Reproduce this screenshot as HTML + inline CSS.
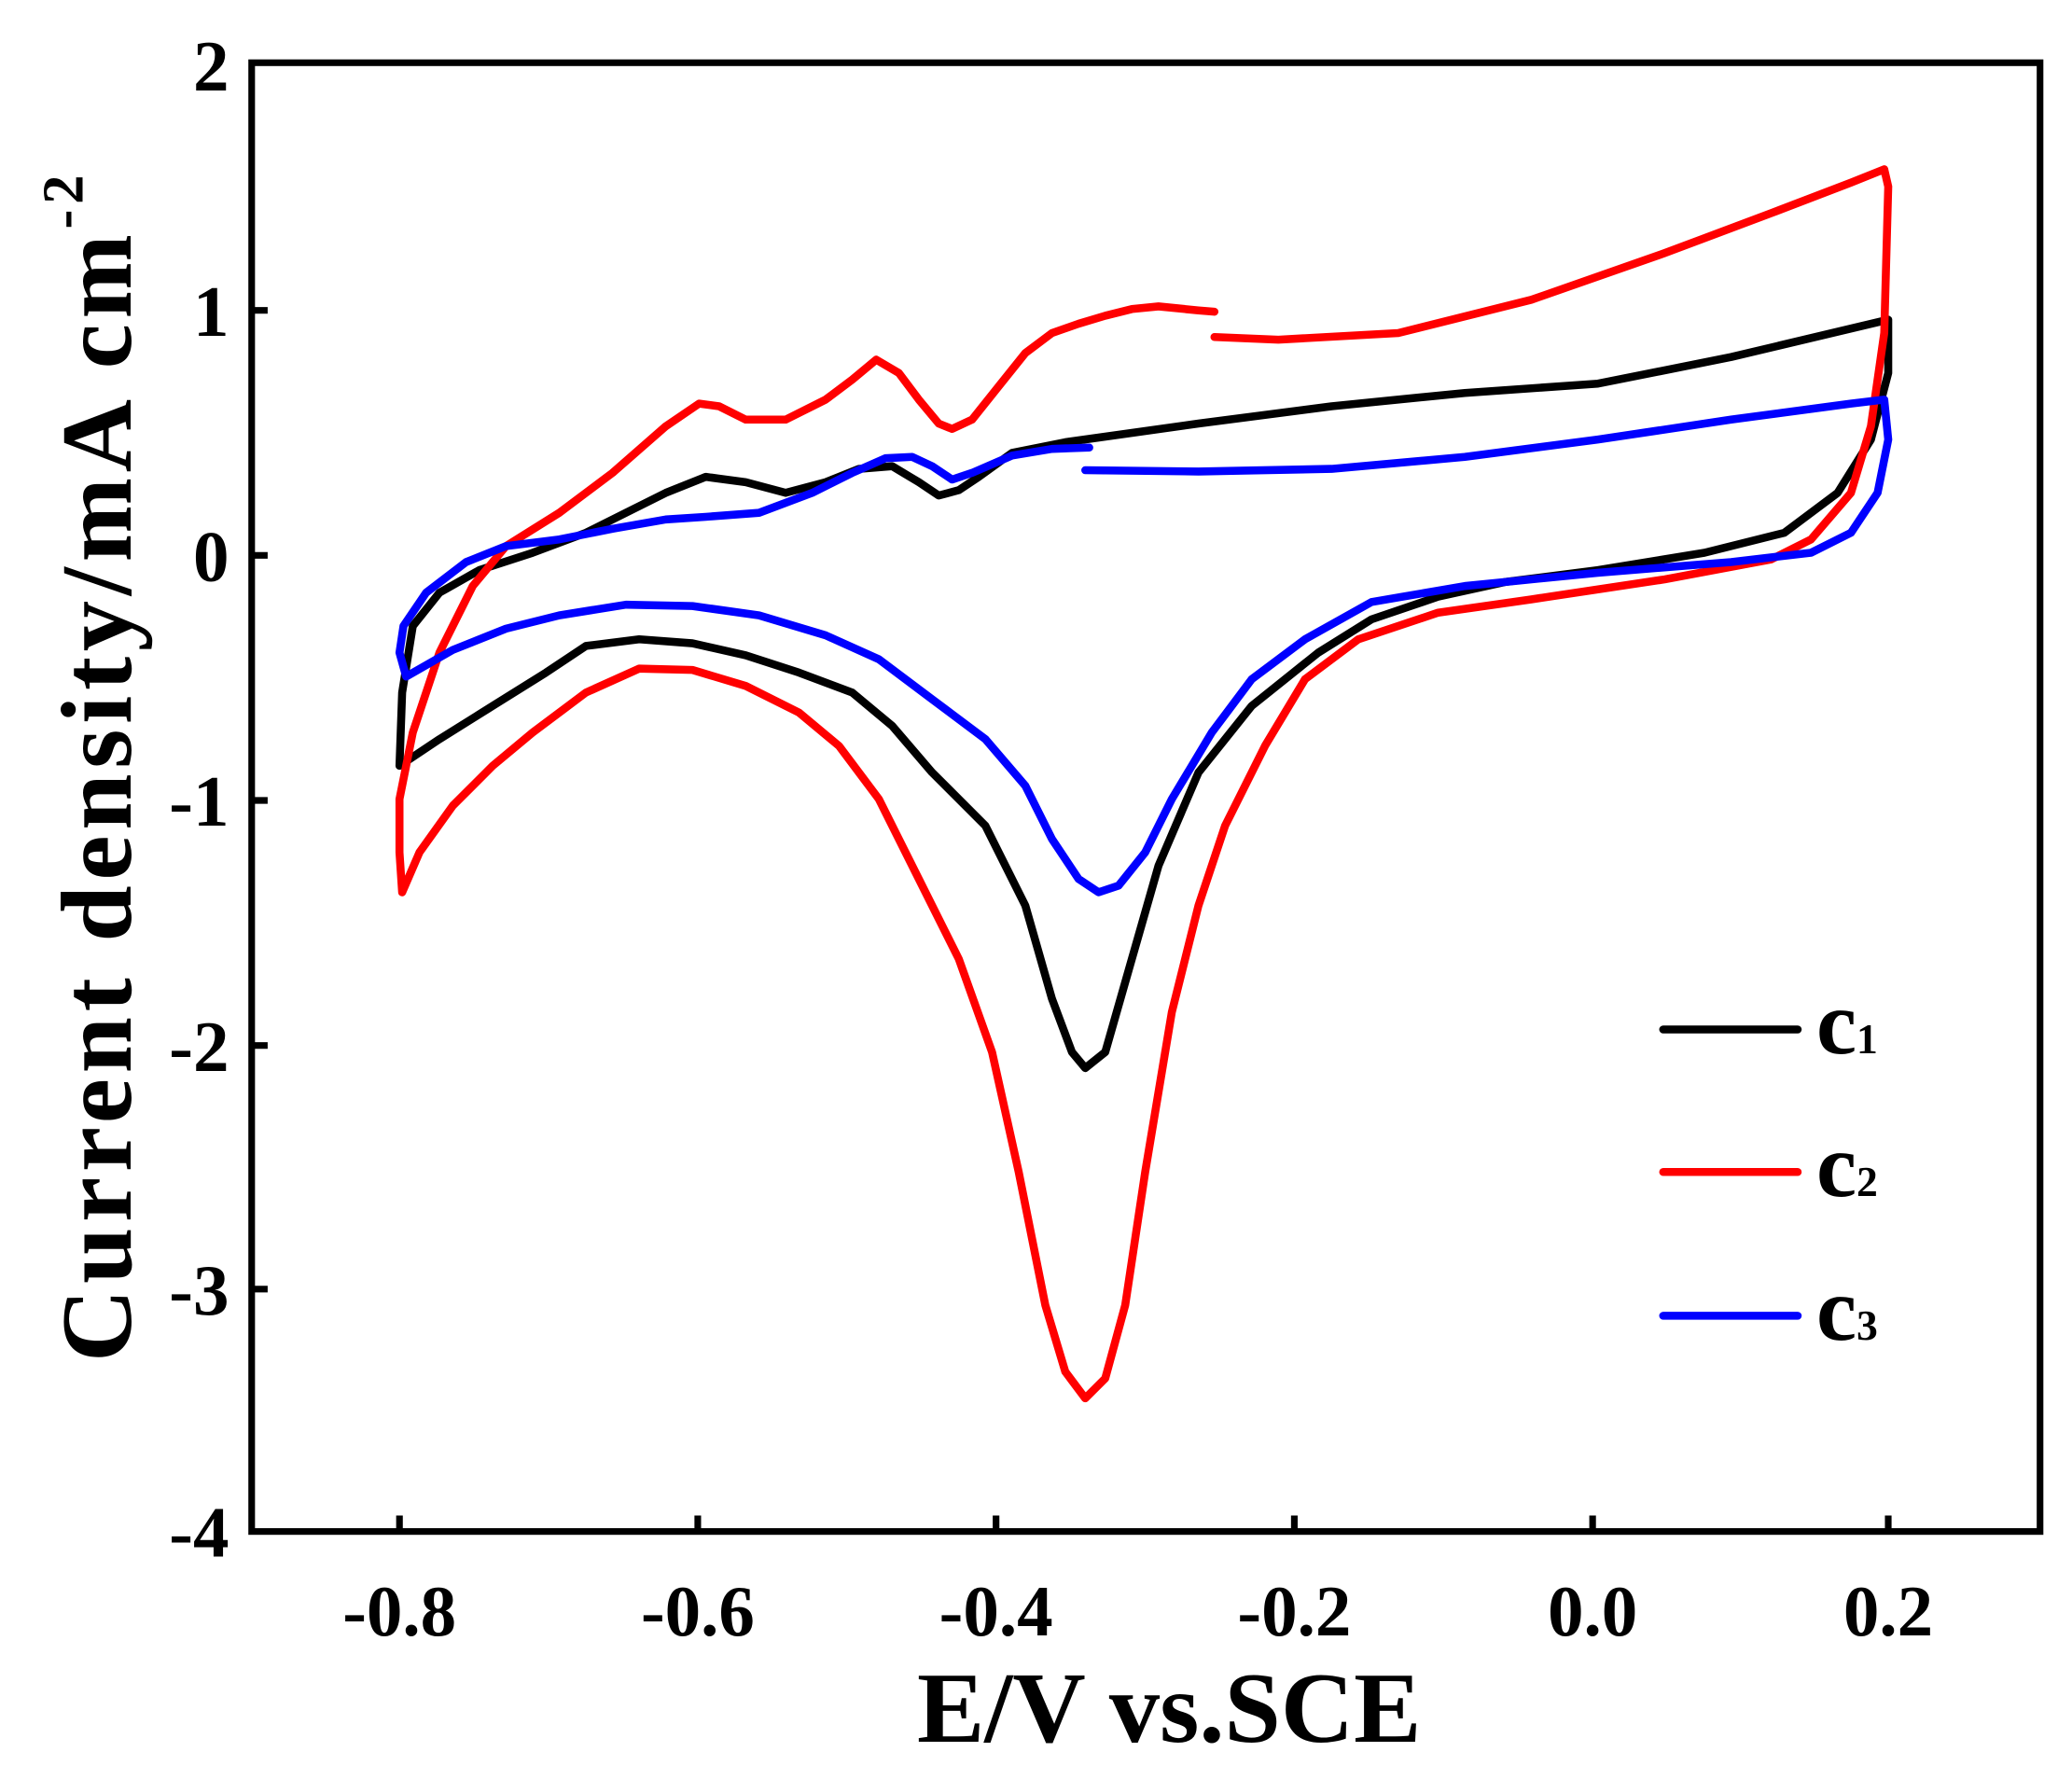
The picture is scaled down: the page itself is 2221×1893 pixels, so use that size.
<!DOCTYPE html>
<html><head><style>html,body{margin:0;padding:0;background:#fff}svg{display:block}</style></head>
<body>
<svg width="2221" height="1893" viewBox="0 0 1556 1326" xmlns="http://www.w3.org/2000/svg" font-family="Liberation Serif, serif" font-weight="bold">
<rect x="189" y="47" width="1343" height="1103" fill="none" stroke="#000" stroke-width="5"/>
<g stroke="#000" stroke-width="5">
<line x1="300" y1="1150" x2="300" y2="1138"/><line x1="524" y1="1150" x2="524" y2="1138"/><line x1="748" y1="1150" x2="748" y2="1138"/><line x1="972" y1="1150" x2="972" y2="1138"/><line x1="1196" y1="1150" x2="1196" y2="1138"/><line x1="1418" y1="1150" x2="1418" y2="1138"/>
<line x1="189" y1="233" x2="201" y2="233"/><line x1="189" y1="417" x2="201" y2="417"/><line x1="189" y1="601" x2="201" y2="601"/><line x1="189" y1="785" x2="201" y2="785"/><line x1="189" y1="968" x2="201" y2="968"/>
</g>
<g font-size="54" text-anchor="middle">
<text x="300" y="1228">-0.8</text><text x="524" y="1228">-0.6</text><text x="748" y="1228">-0.4</text><text x="972" y="1228">-0.2</text><text x="1196" y="1228">0.0</text><text x="1418" y="1228">0.2</text>
</g>
<g font-size="54" text-anchor="end">
<text x="172" y="68">2</text><text x="172" y="252">1</text><text x="172" y="436">0</text><text x="172" y="620">-1</text><text x="172" y="804">-2</text><text x="172" y="987">-3</text><text x="172" y="1169">-4</text>
</g>
<text x="878" y="1308" font-size="76" text-anchor="middle">E/V vs.SCE</text>
<text transform="translate(98,575) rotate(-90)" font-size="76" text-anchor="middle" letter-spacing="4">Current density/mA cm<tspan font-size="44" dy="-36">-2</tspan></text>
<g fill="none" stroke-width="6" stroke-linejoin="round" stroke-linecap="round">
<polyline stroke="#000" points="1418,240 1300,268 1200,288 1100,295 1000,305 900,318 800,332 760,340 735,358 720,368 705,372 690,362 670,350 645,352 620,362 590,370 560,362 530,358 500,370 470,385 440,400 400,415 360,428 330,445 310,470 302,520 300,575 330,555 370,530 410,505 440,485 480,480 520,483 560,492 600,505 640,520 670,545 700,580 740,620 770,680 790,750 805,790 815,802 830,790 850,720 870,650 900,580 940,530 990,490 1030,465 1080,448 1130,437 1200,428 1280,415 1340,400 1380,370 1405,330 1418,280 1418,240"/>
<polyline stroke="#f00" points="912,253 960,255 1050,250 1150,225 1250,190 1330,160 1390,137 1415,127 1418,140 1415,250 1405,320 1390,370 1360,405 1330,420 1250,435 1150,450 1080,460 1020,480 980,510 950,560 920,620 900,680 880,760 860,880 845,980 830,1035 815,1050 800,1030 785,980 765,880 745,790 720,720 690,660 660,600 630,560 600,535 560,515 520,503 480,502 440,520 400,550 370,575 340,605 315,640 302,670 300,640 300,600 310,550 330,490 355,440 380,410 420,385 460,355 500,320 525,303 540,305 560,315 590,315 620,300 640,285 658,270 675,280 690,300 705,318 715,322 730,315 750,290 770,265 790,250 810,243 830,237 850,232 870,230 900,233 912,234"/>
<polyline stroke="#00f" points="815,353 900,354 1000,352 1100,343 1200,330 1300,315 1390,303 1415,300 1418,330 1410,370 1390,400 1360,415 1300,422 1200,430 1100,440 1030,452 980,480 940,510 910,550 880,600 860,640 840,665 825,670 810,660 790,630 770,590 740,555 700,525 660,495 620,477 570,462 520,455 470,454 420,462 380,472 340,488 305,508 300,490 303,470 320,445 350,422 380,410 420,405 460,397 500,390 530,388 570,385 610,370 640,355 665,344 685,343 700,350 715,360 730,355 760,342 790,337 818,336"/>
<line x1="1249" y1="773" x2="1350" y2="773" stroke="#000"/>
<line x1="1249" y1="880" x2="1350" y2="880" stroke="#f00"/>
<line x1="1249" y1="988" x2="1350" y2="988" stroke="#00f"/>
</g>
<g font-size="68"><text x="1364" y="791">c<tspan font-size="32">1</tspan></text><text x="1364" y="898">c<tspan font-size="32">2</tspan></text><text x="1364" y="1006">c<tspan font-size="32">3</tspan></text></g>
</svg>
</body></html>
